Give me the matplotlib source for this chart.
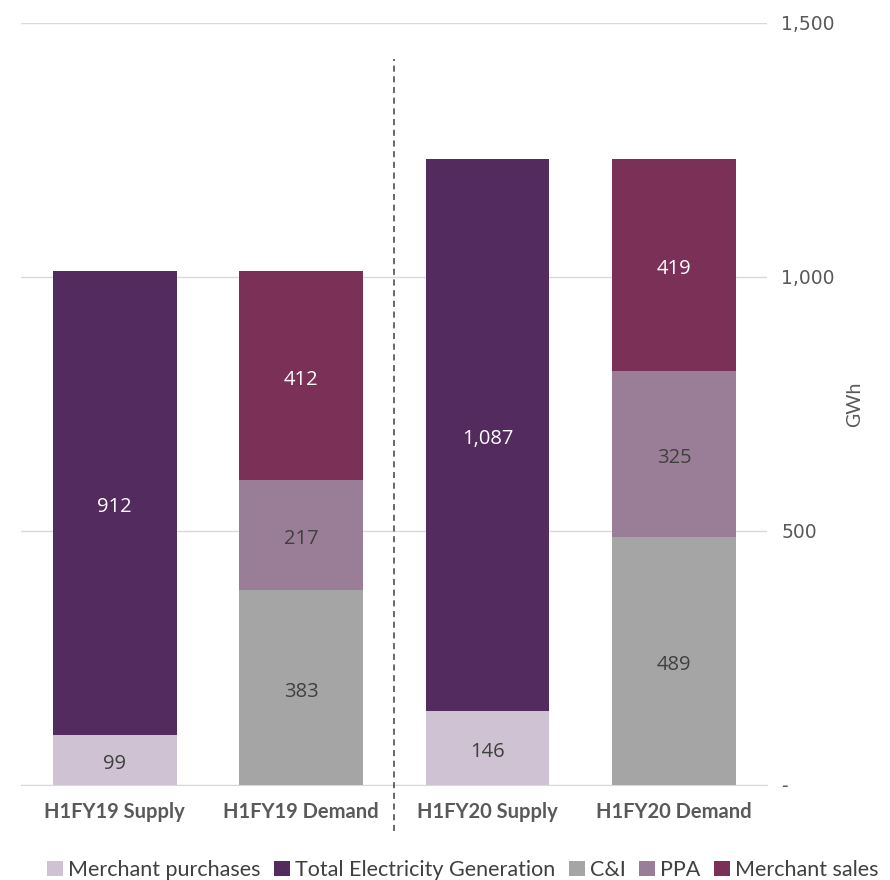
import matplotlib.pyplot as plt
from matplotlib.ticker import FuncFormatter

# data
categories = ['H1FY19 Supply', 'H1FY19 Demand', 'H1FY20 Supply', 'H1FY20 Demand']
series_names = ['Merchant purchases', 'Total Electricity Generation', 'C&I', 'PPA', 'Merchant sales']
merchant_purchases = [99, 0, 146, 0]
total_generation = [912, 0, 1087, 0]
c_and_i = [0, 383, 0, 489]
ppa = [0, 217, 0, 325]
merchant_sales = [0, 412, 0, 419]
yticks = [0, 500, 1000, 1500]

series = [merchant_purchases, total_generation, c_and_i, ppa, merchant_sales]
colors = ['#CFC2D3', '#532B5E', '#A5A5A5', '#9A7E97', '#7B3157']
text_colors = ['#404040', 'white', '#404040', '#404040', 'white']

plt.rcParams['font.family'] = ['Lato', 'DejaVu Sans']

fig, ax = plt.subplots(figsize=(8.9, 8.8), dpi=100)
fig.subplots_adjust(left=0.024, right=0.862, top=0.974, bottom=0.108)

x = list(range(len(categories)))
bottom = [0] * len(categories)
for vals, col, tcol, name in zip(series, colors, text_colors, series_names):
    bars = ax.bar(x, vals, width=0.665, bottom=bottom, color=col, label=name, zorder=3)
    for b, v, bt in zip(bars, vals, bottom):
        if v > 0:
            ax.text(b.get_x() + b.get_width() / 2, bt + v / 2 - 8, f'{v:,}',
                    ha='center', va='center', color=tcol, fontsize=14.5,
                    family=['Open Sans', 'DejaVu Sans'])
    bottom = [a + b for a, b in zip(bottom, vals)]

ax.set_xlim(-0.5, 3.5)
ax.set_ylim(0, 1500)
ax.set_yticks(yticks)
ax.yaxis.set_major_formatter(FuncFormatter(lambda v, p: '-' if v == 0 else f'{int(v):,}'))
ax.yaxis.tick_right()
ax.yaxis.set_label_position('right')
ax.set_ylabel('GWh', fontsize=14, color='#595959', labelpad=8)
ax.tick_params(axis='y', length=0, pad=10, labelsize=13.5, labelcolor='#595959')
for lbl in ax.get_yticklabels():
    lbl.set_family(['DejaVu Sans'])
ax.set_xticks(x)
ax.set_xticklabels(categories, fontsize=14.5, fontweight='bold', color='#595959')
ax.tick_params(axis='x', length=0, pad=12)
ax.grid(axis='y', color='#D9D9D9', linewidth=1, zorder=0)
for s in ['top', 'right', 'left']:
    ax.spines[s].set_visible(False)
ax.spines['bottom'].set_color('#D9D9D9')

# dashed separator
ax.plot([1.5, 1.5], [-0.06, 0.952], transform=ax.get_xaxis_transform(),
        color='#404040', linestyle=(0, (4, 3)), linewidth=1.1, clip_on=False, zorder=4)

fig.legend(loc='lower center', ncol=5, bbox_to_anchor=(0.52, -0.022), frameon=False,
           fontsize=15.5, handlelength=0.75, handleheight=0.75, handletextpad=0.25,
           columnspacing=0.6, labelcolor='#404040')

fig.savefig('out.png', dpi=100)
